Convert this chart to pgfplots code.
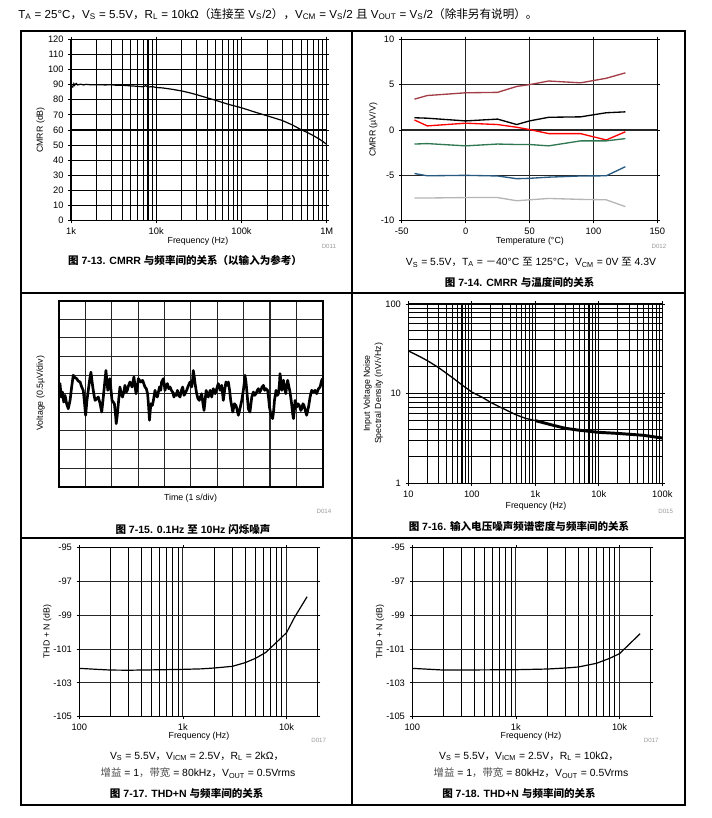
\documentclass[border=0pt]{standalone}
\usepackage{pgfplots}
\pgfplotsset{compat=1.18}
\usepackage{fontspec}
\setmainfont{Liberation Sans}
\newfontfamily\cjk{Noto Sans CJK SC}
\newcommand{\sub}[1]{\textsubscript{#1}}
\definecolor{cbrown}{RGB}{163,62,72}
\definecolor{cred}{RGB}{255,0,0}
\definecolor{cgreen}{RGB}{48,120,82}
\definecolor{cblue}{RGB}{40,90,128}
\definecolor{cgray}{RGB}{182,182,182}
\newcommand{\lab}{\fontsize{6.6}{8.4}\selectfont}
\newcommand{\tkf}{\fontsize{7}{8.4}\selectfont}
\newcommand{\capf}{\fontsize{7.9}{9}\selectfont\bfseries}
\newcommand{\subf}{\fontsize{7.8}{9}\selectfont}
\newcommand{\dlab}{\fontsize{4.6}{5}\selectfont\color{black!40}}
\pgfplotsset{
  panel/.style={scale only axis, anchor=south west,
    axis line style={line width=1.1pt, black},
    major grid style={line width=0.8pt, black},
    minor grid style={line width=0.8pt, black},
    tick style={black, line width=0.6pt}, tick align=outside,
    major tick length=2pt, minor tick length=0pt,
    tick label style={font=\tkf},
    /pgf/number format/assume math mode=true}
}
\pgfplotstableread{
t v
0 0.18
0.04 0.54
0.08 -0.18
0.13 0.09
0.18 -0.45
0.23 -0.09
0.29 -0.54
0.35 -0.81
0.42 -0.36
0.48 0.36
0.54 0.99
0.61 0.86
0.67 0.81
0.73 0.68
0.80 0.63
0.86 0.36
0.92 0.18
0.97 -0.54
1.01 -1.16
1.06 -0.36
1.11 0.18
1.16 0.72
1.21 1.16
1.28 0.36
1.33 -0.09
1.37 -0.36
1.43 -0.27
1.49 -0.18
1.56 -0.54
1.62 -0.99
1.68 -0.18
1.73 0.54
1.78 1.25
1.85 0.18
1.90 0.54
1.93 0.81
2.01 -0.36
2.10 -0.54
2.14 -1.08
2.17 -1.61
2.21 -1.16
2.25 -0.54
2.31 0.36
2.36 0
2.41 -0.18
2.47 0.18
2.50 0.45
2.55 0.09
2.59 0.18
2.64 0.45
2.69 0.63
2.77 0.36
2.84 0.90
2.92 0
2.97 0.36
3.01 0.81
3.10 0.63
3.17 0.72
3.26 0.36
3.31 0.27
3.36 0
3.40 -0.72
3.43 -1.43
3.46 -0.90
3.49 -0.54
3.54 -0.63
3.58 -0.36
3.64 0.18
3.69 -0.09
3.73 -0.18
3.81 0.36
3.86 0.18
3.89 0.63
3.96 0.81
4.02 0.18
4.06 0.45
4.11 0.54
4.16 0.27
4.21 0.36
4.26 0.18
4.31 0.09
4.36 -0.18
4.40 0
4.45 -0.09
4.49 0.18
4.54 -0.09
4.59 -0.18
4.64 0.18
4.69 0.36
4.74 -0.09
4.78 0
4.84 0.18
4.91 0.45
4.97 0.63
5.03 0.36
5.07 0.81
5.09 1.25
5.13 0.90
5.16 0.54
5.22 0
5.27 -0.27
5.32 -0.36
5.36 -0.18
5.41 0
5.46 -0.54
5.50 -0.90
5.54 -0.36
5.58 0.18
5.63 -0.09
5.66 -0.18
5.73 0.18
5.79 -0.18
5.85 0.27
5.92 0
5.98 0.27
6.04 0.54
6.11 0.18
6.17 0.45
6.23 -0.36
6.28 0.18
6.33 0.63
6.38 0.45
6.42 0.63
6.47 0.18
6.51 -0.36
6.59 -0.99
6.65 -0.54
6.71 -0.63
6.76 -0.90
6.80 -1.16
6.86 -0.81
6.93 -0.36
6.99 0.18
7.03 0.63
7.05 0.99
7.09 0.63
7.12 0.18
7.18 -0.81
7.24 -0.99
7.31 -0.18
7.37 0.09
7.42 -0.09
7.47 0
7.52 0.18
7.56 0.27
7.61 0.09
7.65 0.18
7.70 0.36
7.75 0.45
7.80 0.18
7.85 0.27
7.91 0.18
7.95 -0.27
7.98 -0.72
8.04 -1.16
8.10 -1.34
8.14 -0.90
8.17 -0.36
8.23 0.18
8.28 -0.09
8.32 0
8.36 0.54
8.38 1.08
8.42 0.63
8.45 0.18
8.51 0.72
8.56 0.27
8.60 0
8.63 0.36
8.67 0.72
8.72 0.36
8.76 0.09
8.82 -0.54
8.86 -1.08
8.89 -1.34
8.93 -0.81
8.95 -0.36
8.99 -0.63
9.01 -0.72
9.06 -0.54
9.11 -0.63
9.17 -0.90
9.20 -0.81
9.25 -0.54
9.29 -0.63
9.34 -0.90
9.39 -1.16
9.43 -0.90
9.46 -0.72
9.52 -0.18
9.58 0.18
9.65 0.09
9.71 0.18
9.77 0
9.84 0.27
9.90 0.36
9.96 0.72
10.0 0.81
}\noisedata
\begin{document}
\begin{tikzpicture}[x=0.75pt,y=0.75pt]
\path[use as bounding box] (0,0) rectangle (711,818);
% header
\node[anchor=west, font=\fontsize{8.7}{9.5}\selectfont, inner sep=0pt] at (18,804) {T\sub{A} = 25°C{\cjk ，}V\sub{S} = 5.5V{\cjk ，}R\sub{L} = 10kΩ{\cjk （连接至} V\sub{S}/2{\cjk ）}{\cjk ，}V\sub{CM} = V\sub{S}/2 {\cjk 且} V\sub{OUT} = V\sub{S}/2{\cjk （除非另有说明）。}};
% frame
\draw[line width=1pt] (21,787) rectangle (685,13);
\draw[line width=1pt] (352,787) -- (352,13);
\draw[line width=1pt] (21,525) -- (685,525);
\draw[line width=1pt] (21,280) -- (685,280);

% ---------- Panel 1: CMRR vs frequency
\begin{axis}[panel, at={(53.25pt,447.98pt)}, width=191.8pt, height=136.05pt,
  xmode=log, xmin=1000, xmax=1000000, ymin=0, ymax=120,
  ytick={0,10,...,120},
  xtick={1000,10000,100000,1000000}, xticklabels={1k,10k,100k,1M},
  minor xtick={2000,3000,4000,5000,6000,7000,8000,9000,20000,30000,40000,50000,60000,70000,80000,90000,200000,300000,400000,500000,600000,700000,800000,900000},
  grid=both]
\addplot[black, line width=0.9pt] table {
1000 86.5
1020 89
1050 88.5
1080 90.6
1100 89.5
1150 90.8
1200 89.8
1300 90.3
1400 89.8
1500 90.2
1700 89.9
2000 90.0
2500 89.8
3000 89.9
3500 89.5
4000 89.6
5000 89.2
6000 88.9
7000 88.6
7500 89.3
8000 88.4
9000 88.7
10000 88.1
12000 87.8
15000 87.0
20000 85.8
25000 84.5
30000 83.3
40000 81.2
50000 79.6
70000 77.0
100000 74.7
150000 71.5
200000 69.4
300000 66.3
400000 63.2
500000 60.2
600000 58.2
700000 56.2
800000 54.3
900000 52.4
1000000 50.5
};
\end{axis}
\node[font=\lab] at (198,576.3) {Frequency (Hz)};
\node[font=\lab, rotate=90] at (40.7,688) {CMRR (dB)};
\node[font=\dlab, anchor=east] at (340.7,571.3) {D011};
\node[font=\capf] at (185,558) {{\cjk 图} 7-13. CMRR {\cjk 与频率间的关系（以输入为参考）}};

% ---------- Panel 2: CMRR vs temperature
\begin{axis}[panel, at={(301.28pt,447.98pt)}, width=191.7pt, height=136.05pt,
  xmin=-50, xmax=150, ymin=-10, ymax=10,
  xtick={-50,0,50,100,150}, ytick={-10,-5,0,5,10},
  grid=major, major grid style={line width=0.9pt, black!85}]
\addplot[cbrown, line width=1pt] table {
-40 3.4
-30 3.8
0 4.1
25 4.15
40 4.8
50 5.0
65 5.4
90 5.2
110 5.7
125 6.3
};
\addplot[black, line width=1pt] table {
-40 1.35
-30 1.3
0 1.0
25 1.2
40 0.6
50 1.0
65 1.4
90 1.45
110 1.9
125 2.0
};
\addplot[cred, line width=1pt] table {
-40 1.1
-30 0.45
0 0.75
25 0.6
40 0.3
50 0.05
65 -0.4
90 -0.4
110 -1.1
125 -0.2
};
\addplot[cgreen, line width=1pt] table {
-40 -1.55
-30 -1.5
0 -1.75
25 -1.55
40 -1.6
50 -1.6
65 -1.75
90 -1.2
110 -1.2
125 -0.95
};
\addplot[cblue, line width=1pt] table {
-40 -4.8
-30 -5.05
0 -5.0
25 -5.07
40 -5.37
50 -5.33
65 -5.2
90 -5.07
110 -5.05
125 -4.05
};
\addplot[cgray, line width=1pt] table {
-40 -7.5
-30 -7.5
0 -7.45
25 -7.45
40 -7.8
50 -7.7
65 -7.55
90 -7.65
110 -7.7
125 -8.45
};
\end{axis}
\node[font=\lab] at (530,576.3) {Temperature (°C)};
\node[font=\lab, rotate=90] at (373.3,688) {CMRR (µV/V)};
\node[font=\dlab, anchor=east] at (671,571.3) {D012};
\node[font=\subf] at (531,555.7) {V\sub{S} = 5.5V{\cjk ，}T\sub{A} = {\cjk －}40°C {\cjk 至} 125°C{\cjk ，}V\sub{CM} = 0V {\cjk 至} 4.3V};
\node[font=\capf] at (519.7,535.7) {{\cjk 图} 7-14. CMRR {\cjk 与温度间的关系}};

% ---------- Panel 3: 0.1Hz to 10Hz noise
\begin{axis}[panel, at={(44.25pt,248.48pt)}, width=197.8pt, height=139.5pt,
  xmin=0, xmax=10, ymin=-5, ymax=5,
  xtick={0,1,...,10}, ytick={-5,-4,...,5},
  xticklabels={}, yticklabels={}, major tick length=0pt,
  axis line style={line width=1.5pt, black},
  grid=major, major grid style={line width=0.85pt, black!85}]
\addplot[black, line width=2pt, line join=round] table[x=t, y=v] {\noisedata};
\end{axis}
\node[font=\lab] at (190.5,319.7) {Time (1 s/div)};
\node[font=\lab, rotate=90] at (40.7,424.7) {Voltage (0.5µV/div)};
\node[font=\dlab, anchor=east] at (336,306.3) {D014};
\node[font=\capf] at (193,288.7) {{\cjk 图} 7-15. 0.1Hz {\cjk 至} 10Hz {\cjk 闪烁噪声}};

% ---------- Panel 4: noise spectral density
\begin{axis}[panel, at={(306.23pt,251.03pt)}, width=190.5pt, height=134.5pt,
  xmode=log, ymode=log, xmin=10, xmax=100000, ymin=1, ymax=100,
  xtick={10,100,1000,10000,100000}, xticklabels={10,100,1k,10k,100k},
  ytick={1,10,100}, yticklabels={1,10,100},
  minor xtick={20,30,40,50,60,70,80,90,200,300,400,500,600,700,800,900,2000,3000,4000,5000,6000,7000,8000,9000,20000,30000,40000,50000,60000,70000,80000,90000},
  minor ytick={2,3,4,5,6,7,8,9,20,30,40,50,60,70,80,90},
  grid=both]
\addplot[black, line width=1pt] table {
10 30
15 26
20 23.3
30 19.5
50 15
70 12.5
100 10.4
150 9
200 7.95
300 6.9
500 5.8
700 5.3
1000 5.0
2000 4.4
3000 4.1
5000 3.9
10000 3.7
20000 3.6
50000 3.43
100000 3.2
};
\addplot[black, line width=2.2pt] table {
1000 5.0
2000 4.4
3000 4.1
5000 3.9
10000 3.7
20000 3.6
50000 3.43
100000 3.2
};
\end{axis}
\node[font=\lab] at (536,312) {Frequency (Hz)};
\node[font=\lab, rotate=90, align=center] at (373.3,424.7) {Input Voltage Noise\\Spectral Density (nV/√Hz)};
\node[font=\dlab, anchor=east] at (677.7,306.3) {D015};
\node[font=\capf] at (519,292) {{\cjk 图} 7-16. {\cjk 输入电压噪声频谱密度与频率间的关系}};

% ---------- Panel 5: THD+N (2k)
\begin{axis}[panel, at={(59.48pt,75.98pt)}, width=178.8pt, height=126.75pt,
  xmode=log, xmin=100, xmax=20000, ymin=-105, ymax=-95,
  xtick={100,1000,10000}, xticklabels={100,1k,10k},
  ytick={-105,-103,-101,-99,-97,-95}, yticklabels={-105,-103,-101,-99,-97,-95},
  minor xtick={200,300,400,500,600,700,800,900,2000,3000,4000,5000,6000,7000,8000,9000},
  xminorgrids=true, xmajorgrids=true, ymajorgrids=true,
  major grid style={line width=0.85pt, black!85}]
\addplot[black, line width=0.9pt] table {
100 -102.14
150 -102.2
200 -102.24
300 -102.25
500 -102.23
1000 -102.2
1500 -102.17
2000 -102.12
3000 -102.02
4000 -101.8
5000 -101.55
6300 -101.2
8000 -100.6
10000 -100.03
12000 -99.1
15800 -97.9
};
\end{axis}
\node[font=\lab] at (199,81.7) {Frequency (Hz)};
\node[font=\lab, rotate=90] at (47.3,186.3) {THD + N (dB)};
\node[font=\dlab, anchor=east] at (330.7,77.3) {D017};
\node[font=\subf] at (197,62) {V\sub{S} = 5.5V{\cjk ，}V\sub{ICM} = 2.5V{\cjk ，}R\sub{L} = 2kΩ{\cjk ，}};
\node[font=\subf] at (198,44.7) {{\cjk\color{black!70}增益} = 1{\cjk\color{black!70}，带宽} = 80kHz{\cjk ，}V\sub{OUT} = 0.5Vrms};
\node[font=\capf] at (186.7,24.7) {{\cjk 图} 7-17. THD+N {\cjk 与频率间的关系}};

% ---------- Panel 6: THD+N (10k)
\begin{axis}[panel, at={(309.23pt,75.98pt)}, width=178.8pt, height=126.75pt,
  xmode=log, xmin=100, xmax=20000, ymin=-105, ymax=-95,
  xtick={100,1000,10000}, xticklabels={100,1k,10k},
  ytick={-105,-103,-101,-99,-97,-95}, yticklabels={-105,-103,-101,-99,-97,-95},
  minor xtick={200,300,400,500,600,700,800,900,2000,3000,4000,5000,6000,7000,8000,9000},
  xminorgrids=true, xmajorgrids=true, ymajorgrids=true,
  major grid style={line width=0.85pt, black!85}]
\addplot[black, line width=0.9pt] table {
100 -102.14
200 -102.24
500 -102.23
1000 -102.22
2000 -102.18
3000 -102.12
4000 -102.06
6000 -101.84
8000 -101.55
10000 -101.27
12000 -100.8
15800 -100.09
};
\end{axis}
\node[font=\lab] at (531,81.7) {Frequency (Hz)};
\node[font=\lab, rotate=90] at (380,186.3) {THD + N (dB)};
\node[font=\dlab, anchor=east] at (663.3,77.3) {D017};
\node[font=\subf] at (529,62) {V\sub{S} = 5.5V{\cjk ，}V\sub{ICM} = 2.5V{\cjk ，}R\sub{L} = 10kΩ{\cjk ，}};
\node[font=\subf] at (531,44.7) {{\cjk\color{black!70}增益} = 1{\cjk\color{black!70}，带宽} = 80kHz{\cjk ，}V\sub{OUT} = 0.5Vrms};
\node[font=\capf] at (519,24.7) {{\cjk 图} 7-18. THD+N {\cjk 与频率间的关系}};
\end{tikzpicture}
\end{document}
